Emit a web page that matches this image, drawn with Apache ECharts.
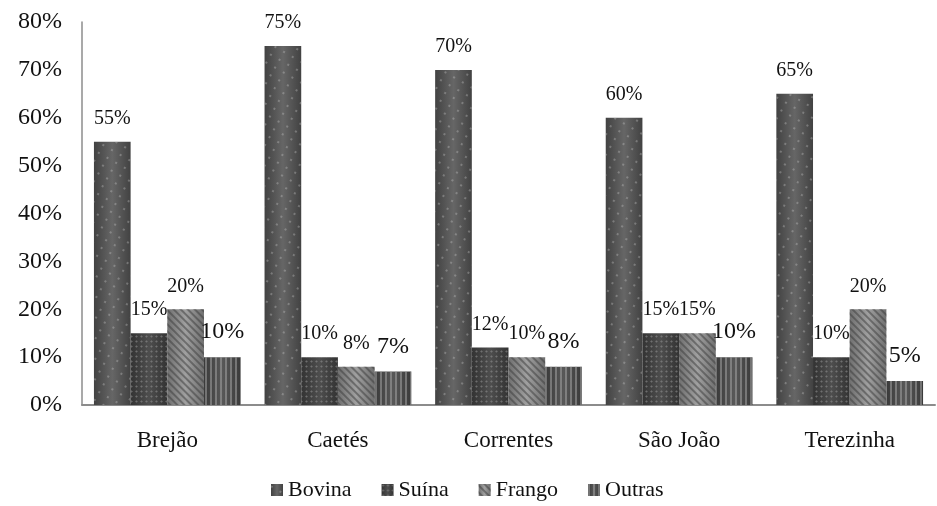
<!DOCTYPE html>
<html>
<head>
<meta charset="utf-8">
<script src="https://cdn.jsdelivr.net/npm/echarts@6/dist/echarts.min.js"></script>
<style>
  html, body { margin: 0; padding: 0; background: #ffffff; }
  #chart { width: 937px; height: 506px; }
</style>
</head>
<body>
<div id="chart"></div>
<script>
/* ===== data ===== */
const categories = ['Brejão', 'Caetés', 'Correntes', 'São João', 'Terezinha'];
const seriesNames = ['Bovina', 'Suína', 'Frango', 'Outras'];
const bovina = [55, 75, 70, 60, 65];
const suina = [15, 10, 12, 15, 10];
const frango = [20, 8, 10, 15, 20];
const outras = [10, 7, 8, 10, 5];
const yTicks = { min: 0, max: 80, interval: 10 };

const serif = '"Liberation Serif", "DejaVu Serif", serif';

function shade(edge, mid) {
  return {
    type: 'linear', x: 0, y: 0, x2: 1, y2: 0,
    colorStops: [
      { offset: 0, color: edge },
      { offset: 0.5, color: mid },
      { offset: 1, color: edge },
    ],
  };
}

const styles = [
  {
    color: shade('#424242', '#666666'),
    decal: { symbol: 'circle', symbolSize: 0.45, color: 'rgba(205,205,205,0.5)', dashArrayX: [[4, 6]], dashArrayY: [4, 5] },
    labelSize: 20,
  },
  {
    color: shade('#333333', '#4e4e4e'),
    decal: { symbol: 'diamond', symbolSize: 0.9, color: 'rgba(150,150,150,0.55)', dashArrayX: [[3, 2]], dashArrayY: [3, 2] },
    labelSize: 20,
  },
  {
    color: shade('#707070', '#a0a0a0'),
    decal: { symbol: 'rect', symbolSize: 1, color: 'rgba(60,60,60,0.5)', dashArrayX: [1, 0], dashArrayY: [2, 3], rotation: Math.PI / 4 },
    labelSize: 20,
  },
  {
    color: shade('#3a3a3a', '#585858'),
    decal: { symbol: 'rect', symbolSize: 1, color: 'rgba(170,170,170,0.5)', dashArrayX: [2, 3], dashArrayY: [1, 0] },
    labelSize: 24,
  },
];

const values = [bovina, suina, frango, outras];

const chart = echarts.init(document.getElementById('chart'));
chart.setOption({
  backgroundColor: '#ffffff',
  animation: false,
  aria: { enabled: true, decal: { show: true } },
  grid: { left: 82, right: 2, top: 22, bottom: 101, containLabel: false },
  legend: {
    bottom: 0,
    left: 266,
    icon: 'rect',
    itemWidth: 12,
    itemHeight: 12,
    itemGap: 30,
    textStyle: { fontFamily: serif, fontSize: 22, color: '#111', padding: [0, 0, 0, 0] },
    data: seriesNames,
  },
  xAxis: {
    type: 'category',
    data: categories,
    axisLine: { lineStyle: { color: '#8c8c8c', width: 2 } },
    axisTick: { show: false },
    axisLabel: { fontFamily: serif, fontSize: 23, color: '#111', margin: 24 },
  },
  yAxis: {
    type: 'value',
    min: yTicks.min,
    max: yTicks.max,
    interval: yTicks.interval,
    axisLine: { show: true, lineStyle: { color: '#8c8c8c', width: 1.5 } },
    axisTick: { show: false },
    splitLine: { show: false },
    axisLabel: { fontFamily: serif, fontSize: 24, color: '#111', margin: 20, formatter: '{value}%' },
  },
  series: seriesNames.map((name, i) => ({
    name,
    type: 'bar',
    data: values[i],
    barGap: '0%',
    barCategoryGap: '14%',
    itemStyle: { color: styles[i].color, decal: styles[i].decal },
    label: {
      show: true,
      position: 'top',
      distance: 13,
      fontFamily: serif,
      fontSize: styles[i].labelSize,
      color: '#111',
      formatter: '{c}%',
    },
  })),
});

window.addEventListener('resize', () => chart.resize());
</script>
</body>
</html>
